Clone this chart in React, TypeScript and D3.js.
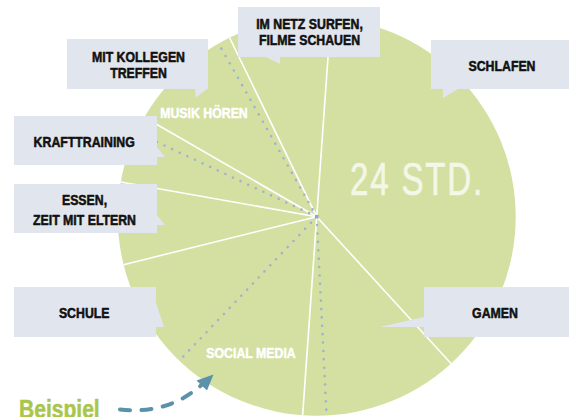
import React from "react";
import * as d3 from "d3";

// ---- data ----
// segments of the 24-hour day separated by white lines (clockwise, starting top-left)
const segmentNames = [
  "IM NETZ SURFEN, FILME SCHAUEN",
  "SCHLAFEN",
  "GAMEN",
  "SOCIAL MEDIA / SCHULE",
  "ESSEN, ZEIT MIT ELTERN",
  "KRAFTTRAINING",
  "MUSIK HÖREN / MIT KOLLEGEN TREFFEN",
];
const segmentHours = [2.0, 8.9, 3.1, 4.8, 1.6, 1.33, 2.27];
const startHour = 22.27; // clock position where the first segment begins
// dotted divider positions (clock hour)
const dottedHours = [11.81, 14.91, 19.67, 22.03];

const calloutLines = [
  ["MIT KOLLEGEN", "TREFFEN"],
  ["IM NETZ SURFEN,", "FILME SCHAUEN"],
  ["SCHLAFEN"],
  ["KRAFTTRAINING"],
  ["ESSEN,", "ZEIT MIT ELTERN"],
  ["SCHULE"],
  ["GAMEN"],
];
const innerLabels = ["MUSIK HÖREN", "SOCIAL MEDIA"];
const totalLabel = "24 STD.";
const exampleLabel = "Beispiel";

// ---- layout ----
const W = 569;
const H = 417;
const cx = 316.7;
const cy = 216.7;
const R = 199;

const boxes = [
  { x: 67, y: 39, w: 141, h: 50, tx: 138.5, base: [22.8, 38.8], tail: [[195, 89], [196, 97.5], [207, 89]] },
  { x: 238, y: 7, w: 142, h: 50, tx: 309.5, base: [22.3, 38.2], tail: [[266, 57], [280, 57], [280, 64]] },
  { x: 431, y: 40, w: 138, h: 49, tx: 502, base: [30.7], tail: [[443, 89], [443, 98], [458, 89]] },
  { x: 14, y: 116, w: 143, h: 49, tx: 84.2, base: [30.7], tail: [[156, 146], [165, 157], [156, 157]] },
  { x: 14, y: 184, w: 143, h: 49, tx: 84.5, base: [21, 41], tail: [[156, 214], [165, 225], [156, 225]] },
  { x: 14, y: 287, w: 142, h: 50, tx: 84.2, base: [31.4], tail: [[156, 303], [164, 327], [156, 327]] },
  { x: 424, y: 287, w: 145, h: 50, tx: 495, base: [30.7], tail: [[424, 317], [380, 327], [424, 327]] },
];
const innerPos = [
  { x: 204, y: 118.3 },
  { x: 251, y: 357.7 },
];

const FONT = "'Liberation Sans', Arial, sans-serif";
const NARROW = 0.81;
const GREEN = "#d3e0a1";
const BOX = "#e1e6ee";
const DOT = "#9fb3d1";

function NText(props: {
  x: number;
  y: number;
  children: React.ReactNode;
  anchor?: "start" | "middle" | "end";
  size: number;
  fill: string;
  bold?: boolean;
  sx?: number;
  spacing?: number;
  stroke?: number;
}) {
  const { x, y, anchor = "middle", size, fill, bold = true, sx = NARROW, spacing = 0, stroke = 0 } = props;
  return (
    <text
      transform={`translate(${x},${y}) scale(${sx},1)`}
      textAnchor={anchor}
      fill={fill}
      stroke={stroke ? fill : "none"}
      strokeWidth={stroke}
      strokeLinejoin="round"
      fontFamily={FONT}
      fontWeight={bold ? "bold" : "normal"}
      fontSize={size}
      letterSpacing={spacing}
    >
      {props.children}
    </text>
  );
}

export default function App() {
  const hourToRad = d3.scaleLinear().domain([0, 24]).range([0, 2 * Math.PI]);
  const pie = d3
    .pie<number>()
    .sort(null)
    .value((d) => d)
    .startAngle(hourToRad(startHour))
    .endAngle(hourToRad(startHour + 24));
  const arcs = pie(segmentHours);
  const pt = (a: number, r: number) => [cx + r * Math.sin(a), cy - r * Math.cos(a)];

  const arrowPath = d3.path();
  arrowPath.moveTo(120, 409.5);
  arrowPath.quadraticCurveTo(168, 415, 202, 384.5);

  return (
    <svg
      width={W}
      height={H}
      viewBox={`0 0 ${W} ${H}`}
      style={{ position: "fixed", left: 0, top: 0, background: "#fff" }}
    >
      <circle cx={cx} cy={cy} r={R} fill={GREEN} />
      {arcs.map((a, i) => {
        const [x, y] = pt(a.startAngle, R);
        return (
          <line key={"w" + i} x1={cx} y1={cy} x2={x} y2={y} stroke="#fff" strokeWidth={1.6} data-name={segmentNames[i]} />
        );
      })}
      {dottedHours.map((h, i) => {
        const [x, y] = pt(hourToRad(h), R - 4);
        return (
          <line
            key={"d" + i}
            x1={cx}
            y1={cy}
            x2={x}
            y2={y}
            stroke={DOT}
            strokeWidth={2.6}
            strokeLinecap="round"
            strokeDasharray="0 8.4"
          />
        );
      })}
      <rect x={cx - 1.8} y={cy - 1.8} width={3.6} height={3.6} fill="#8ea7cb" />

      {innerLabels.map((t, i) => (
        <NText key={t} x={innerPos[i].x} y={innerPos[i].y} size={15.2} fill="#fff" stroke={0.55}>
          {t}
        </NText>
      ))}

      <NText x={350} y={195} anchor="start" size={46} fill="#f4f6e7" bold={false} sx={0.72} spacing={2.5} stroke={0.7}>
        {totalLabel}
      </NText>

      {boxes.map((b, i) => (
        <g key={"b" + i}>
          <rect x={b.x} y={b.y} width={b.w} height={b.h} fill={BOX} />
          <polygon points={b.tail.map((p) => p.join(",")).join(" ")} fill={BOX} />
          {calloutLines[i].map((l, j) => (
            <NText key={j} x={b.tx} y={b.y + b.base[j]} size={15.2} fill="#111" stroke={0.55}>
              {l}
            </NText>
          ))}
        </g>
      ))}

      <NText x={19} y={418} anchor="start" size={26} fill="#a8c64c" stroke={0.5}>
        {exampleLabel}
      </NText>
      <path
        d={arrowPath.toString()}
        fill="none"
        stroke="#5a93a9"
        strokeWidth={4}
        strokeLinecap="round"
        strokeDasharray="10 11.5"
      />
      <polygon points="213.5,374.5 196.5,380.5 207,390.5" fill="#5a93a9" />
    </svg>
  );
}
